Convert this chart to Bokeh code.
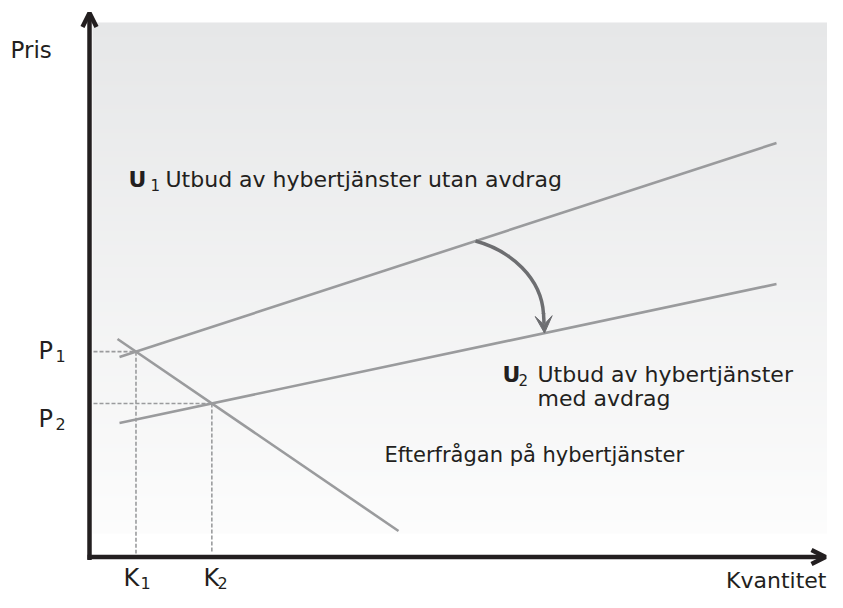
import numpy as np
from bokeh.plotting import figure
from bokeh.models import Range1d, Arrow, OpenHead, VeeHead
from bokeh.core.properties import value
from bokeh.embed import file_html
from bokeh.resources import INLINE

# ---- data (arbitrary units: quantity on x, price on y) ----
supply1_q = [3.0, 68.7]      # U1: supply without deduction
supply1_p = [20.0, 41.4]
supply2_q = [3.0, 68.7]      # U2: supply with deduction
supply2_p = [13.4, 27.3]
demand_q = [2.8, 30.9]       # demand
demand_p = [21.8, 2.6]

axis_labels = ["Pris", "Kvantitet"]
price_labels = ["P", "P"]
price_subs = ["1", "2"]
qty_labels = ["K", "K"]
qty_subs = ["1", "2"]

TXT = "#231f20"
AX = "#231f20"
LINE = "#9a9b9d"
DASH = "#9a9b9d"
ARC = "#6d6e71"
FONT = value("DejaVu Sans")
S = 0.8  # text baseline compensation (data units)


def line_coef(q, pr):
    m = (pr[1] - pr[0]) / (q[1] - q[0])
    return m, pr[0] - m * q[0]


def intersect(qa, pa, qb, pb):
    m1, b1 = line_coef(qa, pa)
    m2, b2 = line_coef(qb, pb)
    q = (b2 - b1) / (m1 - m2)
    return q, m1 * q + b1


K1, P1 = intersect(supply1_q, supply1_p, demand_q, demand_p)
K2, P2 = intersect(supply2_q, supply2_p, demand_q, demand_p)

p = figure(width=827, height=592, x_range=Range1d(-8.9, 73.8), y_range=Range1d(-3.55, 55.65),
           output_backend="svg", toolbar_location=None, min_border=0,
           x_axis_location=None, y_axis_location=None)
p.grid.visible = False
p.outline_line_color = None
p.background_fill_color = "white"
p.border_fill_color = "white"

# ---- gradient background ----
N = 256
t = np.linspace(0.0, 1.0, N)  # 0 bottom -> 1 top
top = np.array([230, 231, 232])
bot = np.array([252, 252, 252])
img = np.empty((N, 1), dtype=np.uint32)
view = img.view(dtype=np.uint8).reshape((N, 1, 4))
for c in range(3):
    view[:, 0, c] = np.round(bot[c] + (top[c] - bot[c]) * t).astype(np.uint8)
view[:, 0, 3] = 255
p.image_rgba(image=[img], x=0.3, y=2.35, dw=74.1, dh=51.1)

# ---- dashed guides ----
p.segment(x0=[0.4, 0.4, K1, K2], y0=[P1, P2, P1, P2],
          x1=[K1, K2, K1, K2], y1=[P1, P2, 0.35, 0.35],
          line_color=DASH, line_width=1.6, line_dash="4 2")

# ---- curves ----
p.line(supply1_q, supply1_p, line_color=LINE, line_width=2.6)
p.line(supply2_q, supply2_p, line_color=LINE, line_width=2.6)
p.line(demand_q, demand_p, line_color=LINE, line_width=2.6)

# ---- curved arrow from U1 to U2 ----
m1, b1 = line_coef(supply1_q, supply1_p)
m2, b2 = line_coef(supply2_q, supply2_p)
qs, qe = 38.6, 45.5
p.bezier(x0=[qs], y0=[m1 * qs + b1], x1=[45.4], y1=[24.3],
         cx0=[42.1], cy0=[30.65], cx1=[45.2], cy1=[27.9],
         line_color=ARC, line_width=3.5)
p.add_layout(Arrow(end=VeeHead(size=17, fill_color=ARC, line_color=ARC, line_width=1),
                   x_start=45.4, y_start=24.4, x_end=qe, y_end=m2 * qe + b2,
                   line_color=ARC, line_width=3.5))

# ---- axes with arrows ----
p.add_layout(Arrow(end=OpenHead(size=14, line_width=4.5, line_color=AX),
                   x_start=0, y_start=-0.3, x_end=0, y_end=54.4,
                   line_color=AX, line_width=4.5))
p.add_layout(Arrow(end=OpenHead(size=14, line_width=4.5, line_color=AX),
                   x_start=-0.2, y_start=0, x_end=73.6, y_end=0,
                   line_color=AX, line_width=4.5))

# ---- axis labels ----
p.text(x=[-7.9], y=[49.95 + S], text=[axis_labels[0]], text_font=FONT, text_font_size="23px",
       text_color=TXT, text_baseline="alphabetic")
p.text(x=[73.7], y=[-3.15 + S], text=[axis_labels[1]], text_font=FONT, text_font_size="22px",
       text_color=TXT, text_baseline="alphabetic", text_align="right")

p.text(x=[-5.1, -5.1], y=[P1 - 0.7 + S, P2 - 2.4 + S], text=price_labels, text_font=FONT,
       text_font_size="24px", text_color=TXT, text_baseline="alphabetic")
p.text(x=[-3.4, -3.4], y=[P1 - 1.2 + S, P2 - 2.9 + S], text=price_subs, text_font=FONT,
       text_font_size="16px", text_color=TXT, text_baseline="alphabetic")

p.text(x=[K1 - 1.25, K2 - 0.83], y=[-2.85 + S] * 2, text=qty_labels, text_font=FONT,
       text_font_size="24px", text_color=TXT, text_baseline="alphabetic")
p.text(x=[K1 + 0.45, K2 + 0.57], y=[-3.35 + S] * 2, text=qty_subs, text_font=FONT,
       text_font_size="16px", text_color=TXT, text_baseline="alphabetic")

# ---- curve annotations ----
p.text(x=[3.9, 41.3], y=[36.95 + S, 17.45 + S], text=["U", "U"], text_font=FONT,
       text_font_size="22px", text_font_style="bold", text_color=TXT, text_baseline="alphabetic")
p.text(x=[6.1, 42.9], y=[36.45 + S, 16.95 + S], text=["1", "2"], text_font=FONT,
       text_font_size="15px", text_color=TXT, text_baseline="alphabetic")
p.text(x=[7.6, 44.8, 44.8], y=[36.95 + S, 17.45 + S, 15.05 + S],
       text=["Utbud av hybertjänster utan avdrag", "Utbud av hybertjänster", "med avdrag"],
       text_font=FONT, text_font_size="22px", text_color=TXT, text_baseline="alphabetic")
p.text(x=[29.5], y=[9.45 + S], text=["Efterfrågan på hybertjänster"], text_font=FONT,
       text_font_size="21px", text_color=TXT, text_baseline="alphabetic")

open("out.html", "w").write(file_html(p, INLINE))
